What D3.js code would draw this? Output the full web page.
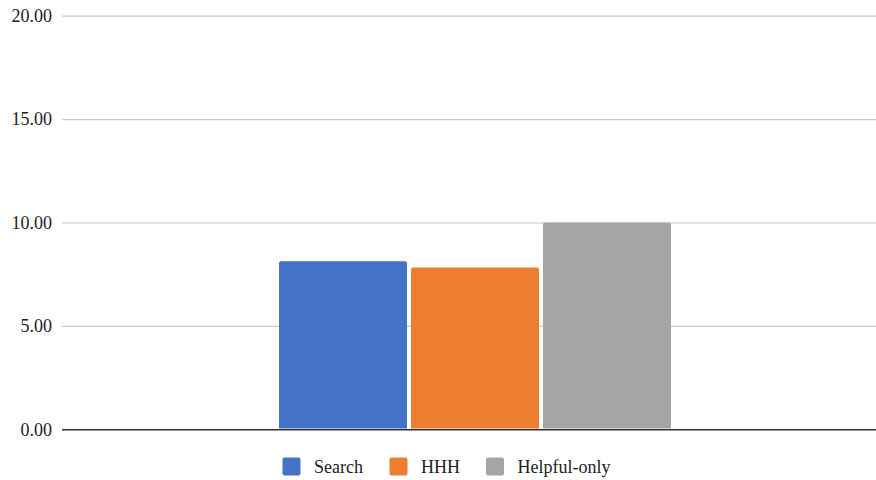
<!DOCTYPE html>
<html>
<head>
<meta charset="utf-8">
<script src="https://cdn.jsdelivr.net/npm/d3@7"></script>
<style>
  html, body { margin: 0; padding: 0; background: #fff; }
  svg { display: block; }
  text { font-family: "Liberation Serif", "Times New Roman", serif; fill: #222; }
</style>
</head>
<body>
<svg id="chart" width="876" height="480"></svg>
<script>
// Chart data
const categories = [""];
const seriesNames = ["Search", "HHH", "Helpful-only"];
const seriesValues = [8.13, 7.82, 10.0];
const seriesColors = ["#4472C4", "#ED7D31", "#A5A5A5"];
const yTicks = [0, 5, 10, 15, 20];

const svg = d3.select("#chart");
const W = 876, H = 480;
const plot = { left: 62, right: 888, top: 15.7, bottom: 429.3 };

const y = d3.scaleLinear().domain([0, 20]).range([plot.bottom, plot.top]);

const x0 = d3.scaleBand()
  .domain(categories)
  .range([plot.left, plot.right])
  .paddingInner(0.3563)
  .paddingOuter(0.3563);

const x1 = d3.scaleBand()
  .domain(seriesNames)
  .range([0, x0.bandwidth()])
  .paddingInner(0.0303)
  .paddingOuter(0);

const color = d3.scaleOrdinal().domain(seriesNames).range(seriesColors);

// Gridlines and y axis labels
const yAxis = d3.axisLeft(y)
  .tickValues(yTicks)
  .tickFormat(d3.format(".2f"))
  .tickSize(-(plot.right - plot.left))
  .tickPadding(10);

const gy = svg.append("g")
  .attr("transform", `translate(${plot.left},0)`)
  .call(yAxis);
gy.select(".domain").remove();
gy.selectAll(".tick line")
  .attr("stroke", d => d === 0 ? "#333" : "#c8c8c8")
  .attr("stroke-width", d => d === 0 ? 1.6 : 1.2);
gy.selectAll(".tick text")
  .attr("font-size", 18)
  .attr("fill", "#222")
  .style("font-family", '"Liberation Serif", "Times New Roman", serif');

// Bars with slightly rounded top corners
const r = 2;
function barPath(xp, w, yTop, yBot) {
  return `M${xp},${yBot}V${yTop + r}Q${xp},${yTop} ${xp + r},${yTop}` +
    `H${xp + w - r}Q${xp + w},${yTop} ${xp + w},${yTop + r}V${yBot}Z`;
}

const group = svg.append("g")
  .attr("transform", `translate(${x0(categories[0])},0)`);

group.selectAll("path.bar")
  .data(seriesNames.map((n, i) => ({ name: n, value: seriesValues[i] })))
  .join("path")
  .attr("class", "bar")
  .attr("fill", d => color(d.name))
  .attr("d", d => barPath(x1(d.name), x1.bandwidth(), y(d.value), y(0) - 0.8));

// Legend
const legendItems = [
  { name: seriesNames[0], x: 282.5 },
  { name: seriesNames[1], x: 389.5 },
  { name: seriesNames[2], x: 486 }
];
const legend = svg.append("g");
const li = legend.selectAll("g")
  .data(legendItems)
  .join("g")
  .attr("transform", d => `translate(${d.x},457.5)`);
li.append("rect")
  .attr("width", 18).attr("height", 18)
  .attr("rx", 2).attr("ry", 2)
  .attr("fill", d => color(d.name));
li.append("text")
  .attr("x", 31.5).attr("y", 15)
  .attr("font-size", 18)
  .text(d => d.name);
</script>
</body>
</html>
